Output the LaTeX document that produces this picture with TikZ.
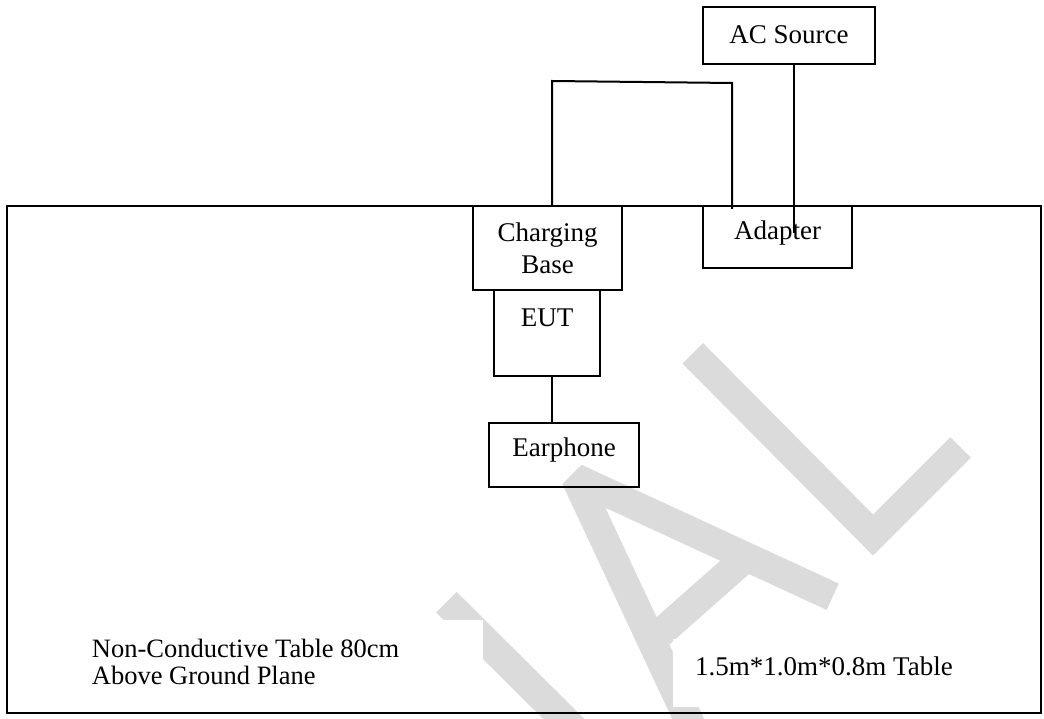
\documentclass[tikz,border=0pt]{standalone}
\usepackage{fontspec}
\setmainfont{Liberation Serif}
\definecolor{wmgray}{RGB}{219,219,219}
\begin{document}
\begin{tikzpicture}[x=1pt,y=-1pt,
  box/.style={draw, line width=2pt, inner sep=0pt, font=\fontsize{27}{32}\selectfont, text height=18.4pt},
  wire/.style={line width=2pt},
  wm/.style={draw=wmgray, line width=29pt},
  lbl/.style={inner sep=0pt, font=\fontsize{26.5}{27}\selectfont}]
\useasboundingbox (0,0) rectangle (1044,719);
% watermark
\begin{scope}
\clip (0,0) rectangle (1044,719);
\draw[wm, line join=miter] (692.8,353.3) -- (873,535) -- (960.7,447.5);
\draw[wm, line join=bevel] (698,740) -- (575.5,478) -- (832.7,596.7);
\draw[wm] (652,640.5) -- (746,557.4);
\draw[wm] (446.4,602.2) -- (588.2,743.2);
\end{scope}
\fill[white] (80,620) rectangle (483,707);
\fill[white] (673,639) rectangle (975,707);
% table
\node[draw, line width=2.2pt, inner sep=0pt, minimum width=1034pt, minimum height=507pt] (table) at (524,459.5) {};
% boxes
\node[box, minimum width=172pt, minimum height=57pt, text depth=2.8pt] (ac) at (789,35.5) {AC Source};
\node[box, minimum width=149pt, minimum height=84pt, align=center, text height=, text depth=] (cb) at (547.5,248) {Charging\\Base};
\node[box, minimum width=149pt, minimum height=62pt, text depth=12.4pt] (adp) at (777.5,237) {Adapter};
\node[box, minimum width=106pt, minimum height=86pt, text depth=31pt] (eut) at (547,333) {EUT};
\node[box, minimum width=150pt, minimum height=64pt, text depth=15pt] (ear) at (564,455) {Earphone};
% connectors
\coordinate (acEnd) at (794,233);
\coordinate (k1) at (552,81);
\coordinate (k2) at (732,83);
\coordinate (adpIn) at (732,209);
\coordinate (eutX) at (552,0);
\draw[wire] (acEnd |- ac.south) -- (acEnd);
\draw[wire] (k1 |- cb.north) -- (k1) -- (k2) -- (adpIn);
\draw[wire] (eutX |- eut.south) -- (eutX |- ear.north);
% labels
\node[lbl, anchor=base west] (nc1) at (91.7,657) {Non-Conductive Table 80cm};
\node[lbl, anchor=base west] (nc2) at (91.7,684) {Above Ground Plane};
\node[lbl, anchor=base west, font=\fontsize{27}{32}\selectfont] (dim) at (695,675) {1.5m*1.0m*0.8m Table};
\end{tikzpicture}
\end{document}
